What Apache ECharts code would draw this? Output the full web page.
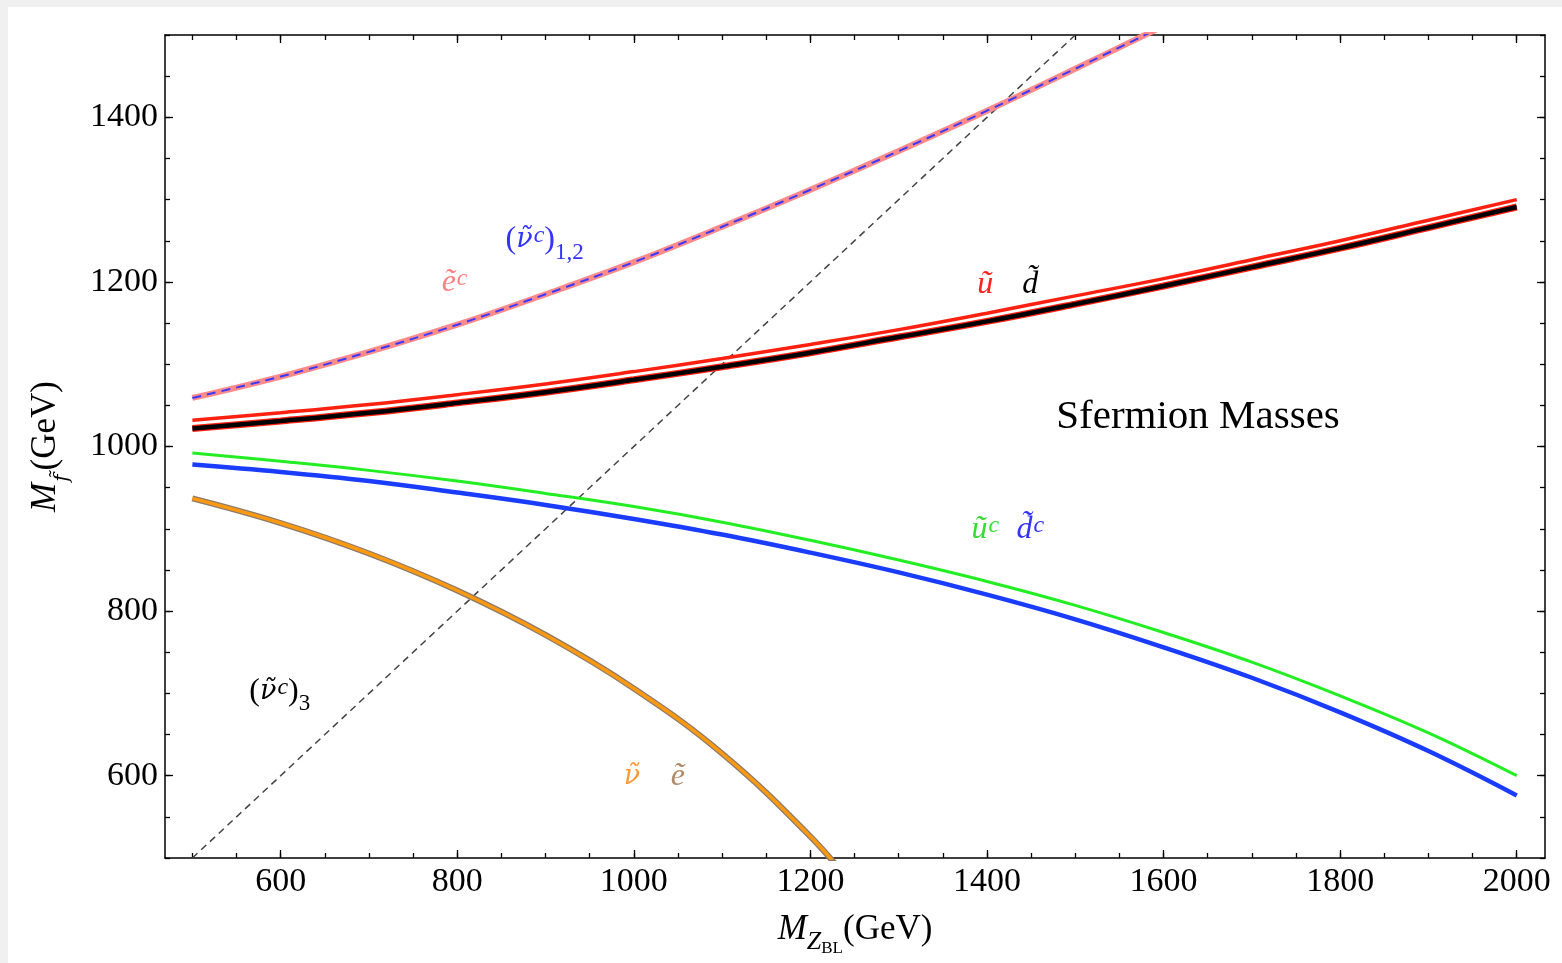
<!DOCTYPE html>
<html><head><meta charset="utf-8">
<script src="https://cdn.jsdelivr.net/npm/echarts@6/dist/echarts.min.js"></script>
<style>
html,body{margin:0;padding:0;background:#f0f0f0;width:1562px;height:963px;overflow:hidden;}
#c{position:absolute;left:8px;top:7px;width:1554px;height:956px;background:#fff;}
</style></head><body><div id="c"></div>
<script>
// ---- data ----
const mzFull = [500,600,700,800,900,1000,1100,1200,1300,1400,1500,1600,1700,1800,1900,2000];
const mzEc   = [500,600,700,800,900,1000,1100,1200,1300,1400,1500,1600];
const mzNu   = [500,600,700,800,900,1000,1100,1200,1250];

const eC     = [1059,1085,1115,1148,1185,1224,1267,1312,1359,1408,1459,1511];   // e~c (pink)
const nuC12  = [1059,1085,1115,1148,1185,1224,1267,1312,1359,1408,1459,1511];   // (nu~c)1,2 (blue dashed)
const uSq    = [1032,1041,1051,1063,1076,1091,1107,1124,1142,1162,1183,1204,1227,1250,1275,1300];
const dSq    = [1022,1031,1041,1053,1066,1081,1097,1114,1133,1152,1173,1195,1218,1241,1266,1291];
const ucSq   = [992,982,971,958,943,927,908,886,862,836,807,774,738,697,652,600];
const dcSq   = [978,969,958,944,929,912,893,871,847,820,790,756,719,677,630,576];
const nuSq   = [937,907,870,825,771,706,627,526,464];
const eSq    = [937,907,870,825,771,706,627,526,464];
const diagX  = [500,1500];
const diagY  = [500,1500];

const xMajor = [600,800,1000,1200,1400,1600,1800,2000];
const xMajorLabels = ['600','800','1000','1200','1400','1600','1800','2000'];
const xMinor = [500,550,600,650,700,750,800,850,900,950,1000,1050,1100,1150,1200,1250,1300,1350,1400,1450,1500,1550,1600,1650,1700,1750,1800,1850,1900,1950,2000];
const yMajor = [600,800,1000,1200,1400];
const yMajorLabels = ['600','800','1000','1200','1400'];
const yMinor = [500,550,600,650,700,750,800,850,900,950,1000,1050,1100,1150,1200,1250,1300,1350,1400,1450,1500];

const annText = ['{i|ẽ}{sup|c}','{n|(}{nu|ν̃}{sup|c}{n|)}{sub|1,2}','{i|ũ}','{i|d̃}','{i|ũ}{sup|c}','{i|d̃}{sup|c}','{n|(}{nu|ν̃}{sup|c}{n|)}{sub|3}','{nu|ν̃}','{i|ẽ}','{big|Sfermion Masses}'];
const annX = [797,899,1398,1449,1398,1449,599,998,1050,1639];
const annY = [1194,1246,1192,1192,894,894,697,594,594,1035];
const annColor = ['#ff8080','#3333ff','#ff2020','#000000','#33dd33','#3333ff','#000000','#ff9933','#b08a6a','#000000'];

// ---- chart ----
const serif = "'Liberation Serif','Times New Roman',serif";
const djv = "'DejaVu Serif',serif";
const zip = (xs, ys) => xs.map((x, k) => [x, ys[k]]);
const chart = echarts.init(document.getElementById('c'), null, {renderer:'canvas'});

const rich = {
  i:   {fontFamily: serif, fontStyle: 'italic', fontSize: 32, padding: [0,0,8,0]},
  nu:  {fontFamily: djv, fontStyle: 'italic', fontSize: 27, padding: [0,0,8,0]},
  n:   {fontFamily: serif, fontSize: 32, padding: [0,0,8,0]},
  sup: {fontFamily: serif, fontStyle: 'italic', fontSize: 24, verticalAlign: 'top', padding: [0,0,0,1]},
  sub: {fontFamily: serif, fontSize: 23, verticalAlign: 'bottom'},
  big: {fontFamily: serif, fontSize: 41, color: '#000'}
};

const XMIN = 469, XMAX = 2032, YMIN = 500, YMAX = 1500;
const lineCol = '#000';
function xAx(pos, major, showLine, showLabel, extra) {
  return Object.assign({
    type: 'value', min: XMIN, max: XMAX, position: pos,
    axisLine: {show: showLine, onZero: false, lineStyle: {color: lineCol, width: 1.5}},
    axisTick: {show: true, inside: true, customValues: major ? xMajor : xMinor, length: major ? 8 : 5, lineStyle: {color: lineCol, width: 1.3}},
    axisLabel: {show: showLabel, customValues: xMajor, color: '#000', fontFamily: serif, fontSize: 34, margin: 7,
      formatter: v => xMajorLabels[xMajor.indexOf(v)] ?? String(v)},
    splitLine: {show: false}
  }, extra || {});
}
function yAx(pos, major, showLine, showLabel, extra) {
  return Object.assign({
    type: 'value', min: YMIN, max: YMAX, position: pos,
    axisLine: {show: showLine, onZero: false, lineStyle: {color: lineCol, width: 1.5}},
    axisTick: {show: true, inside: true, customValues: major ? yMajor : yMinor, length: major ? 8 : 5, lineStyle: {color: lineCol, width: 1.3}},
    axisLabel: {show: showLabel, customValues: yMajor, color: '#000', fontFamily: serif, fontSize: 34, margin: 7,
      formatter: v => yMajorLabels[yMajor.indexOf(v)] ?? String(v)},
    splitLine: {show: false}
  }, extra || {});
}

function lineS(name, xs, ys, color, width, extra) {
  return Object.assign({
    name, type: 'line', data: zip(xs, ys), xAxisIndex: 0, yAxisIndex: 0,
    showSymbol: false, symbol: 'none', smooth: 0.4, clip: true,
    lineStyle: {color, width, cap: 'butt'}, emphasis: {disabled: true}, silent: true
  }, extra || {});
}

const option = {
  animation: false,
  backgroundColor: 'transparent',
  grid: {left: 157, top: 28, width: 1380, height: 823, containLabel: false},
  xAxis: [
    xAx('bottom', true, true, true, {
      name: '{i|M}{sub|Z}{ss|BL}{n|(GeV)}', nameLocation: 'middle', nameGap: 54,
      nameTextStyle: {color: '#000', rich: Object.assign({}, rich, {
        i: {fontFamily: serif, fontStyle: 'italic', fontSize: 35, padding: [0,0,10,0]},
        n: {fontFamily: serif, fontSize: 35, padding: [0,0,10,0]},
        sub: {fontFamily: serif, fontStyle: 'italic', fontSize: 26, verticalAlign: 'bottom', padding:[0,0,2,0]},
        ss: {fontFamily: serif, fontSize: 17, verticalAlign: 'bottom'}
      })}
    }),
    xAx('bottom', false, false, false),
    xAx('top', true, true, false),
    xAx('top', false, false, false)
  ],
  yAxis: [
    yAx('left', true, true, true, {
      name: '{i|M}{sub|f̃}{n|(GeV)}', nameLocation: 'middle', nameGap: 92, nameRotate: 90,
      nameTextStyle: {color: '#000', rich: Object.assign({}, rich, {
        i: {fontFamily: serif, fontStyle: 'italic', fontSize: 35, padding: [0,0,10,0]},
        n: {fontFamily: serif, fontSize: 35, padding: [0,0,10,0]},
        sub: {fontFamily: djv, fontStyle: 'italic', fontSize: 20, verticalAlign: 'bottom', padding: [0,4,0,1]}
      })}
    }),
    yAx('left', false, false, false),
    yAx('right', true, true, false),
    yAx('right', false, false, false)
  ],
  series: [
    lineS('diag', diagX, diagY, '#444', 1.5, {smooth: false, lineStyle: {color: '#444', width: 1.5, type: [7, 5]}}),
    lineS('e~c', mzEc, eC, '#ff8a8a', 6),
    lineS('(nu~c)1,2', mzEc, nuC12, '#3a3aff', 2, {lineStyle: {color: '#3a3aff', width: 2, type: [9, 6]}}),
    lineS('u~', mzFull, uSq, '#ff2010', 3.5),
    lineS('d~ under', mzFull, dSq, '#ff2010', 7),
    lineS('d~', mzFull, dSq, '#000', 4.5),
    lineS('u~c', mzFull, ucSq, '#22ee22', 3),
    lineS('d~c', mzFull, dcSq, '#1a3cff', 4.5),
    lineS('e~', mzNu, eSq, '#8c7b6a', 6),
    lineS('nu~', mzNu, nuSq, '#ff9a10', 3.5),
    {
      type: 'scatter', symbolSize: 0, silent: true, xAxisIndex: 0, yAxisIndex: 0,
      itemStyle: {opacity: 1},
      data: annX.map((x, k) => ({
        value: [x, annY[k]],
        itemStyle: {opacity: 1},
        label: {show: true, position: 'inside', formatter: annText[k], color: annColor[k], opacity: 1, rich: rich}
      }))
    }
  ]
};
chart.setOption(option);
</script></body></html>
